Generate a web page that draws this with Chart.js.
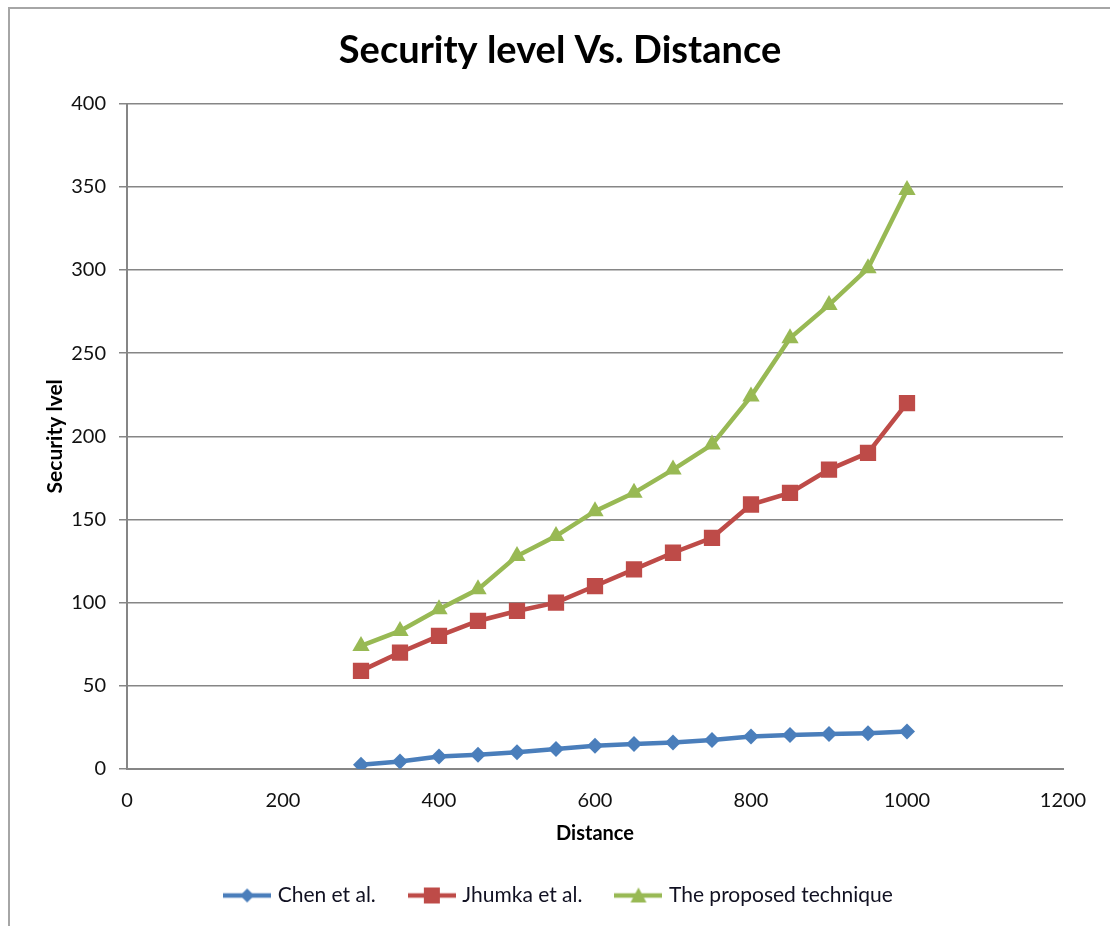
<!DOCTYPE html>
<html>
<head>
<meta charset="utf-8">
<script src="https://cdn.jsdelivr.net/npm/chart.js@4/dist/chart.umd.min.js"></script>
<style>
  html, body { margin: 0; padding: 0; background: #fff; }
  #wrap { position: relative; width: 1110px; height: 926px; }
  #frame {
    position: absolute; left: 8px; top: 7px; right: -4px; bottom: -4px;
    border-left: 2px solid #a6a6a6; border-top: 2px solid #a6a6a6;
    pointer-events: none;
  }
</style>
</head>
<body>
<div id="wrap">
  <canvas id="chart" width="1110" height="926"></canvas>
  <div id="frame"></div>
</div>
<script>
const distance = [300, 350, 400, 450, 500, 550, 600, 650, 700, 750, 800, 850, 900, 950, 1000]
const chen = [2.5, 4.5, 7.5, 8.5, 10, 12, 14, 15, 16, 17.5, 19.5, 20.5, 21, 21.5, 22.5]
const jhumka = [59, 70, 80, 89, 95, 100, 110, 120, 130, 139, 159, 166, 180, 190, 220]
const proposed = [74, 83, 96, 108, 128, 140, 155, 166, 180, 195, 224, 259, 279, 301, 348]
const seriesNames = ["Chen et al.", "Jhumka et al.", "The proposed technique"]

const colors = ["#4a7ebb", "#be4b48", "#98b954"]
const styles = ["rectRot", "rect", "triangle"]
const radii = [8, 11.5, 10]
const font = "Lato, 'Open Sans', sans-serif"

// small canvas used as the legend symbol: a line with the marker in the middle
function legendSymbol(color, style) {
  const c = document.createElement("canvas")
  c.width = 48
  c.height = 18
  const g = c.getContext("2d")
  g.strokeStyle = color
  g.fillStyle = color
  g.lineWidth = 4.5
  g.beginPath()
  g.moveTo(0, 9)
  g.lineTo(48, 9)
  g.stroke()
  g.beginPath()
  if (style === "rectRot") {
    g.moveTo(24, 2); g.lineTo(31, 9); g.lineTo(24, 16); g.lineTo(17, 9)
  } else if (style === "rect") {
    g.rect(16, 1, 16, 16)
  } else {
    g.moveTo(24, 1); g.lineTo(32, 16); g.lineTo(16, 16)
  }
  g.closePath()
  g.fill()
  return c
}

const values = [chen, jhumka, proposed]
const datasets = values.map((vals, i) => ({
  label: seriesNames[i],
  data: distance.map((d, j) => ({ x: d, y: vals[j] })),
  borderColor: colors[i],
  backgroundColor: colors[i],
  borderWidth: 4.5,
  pointStyle: styles[i],
  pointRadius: radii[i],
  pointHoverRadius: radii[i],
  pointBorderWidth: 0,
  tension: 0
}))

new Chart(document.getElementById("chart"), {
  type: "line",
  data: { datasets },
  options: {
    responsive: false,
    animation: false,
    layout: { padding: { left: 57, right: 47, top: 0, bottom: 10 } },
    plugins: {
      title: {
        display: true,
        text: "Security level Vs. Distance",
        color: "#000",
        font: { family: font, size: 38, weight: "bold" },
        padding: { top: 28, bottom: 30 }
      },
      legend: {
        position: "bottom",
        labels: {
          color: "#111122",
          font: { family: font, size: 21 },
          usePointStyle: true,
          pointStyleWidth: 40,
          padding: 36,
          generateLabels(chart) {
            const items = Chart.defaults.plugins.legend.labels.generateLabels(chart)
            items.forEach((it, i) => { it.pointStyle = legendSymbol(colors[i], styles[i]) })
            return items
          }
        }
      },
      tooltip: { enabled: false }
    },
    scales: {
      x: {
        type: "linear",
        min: 0,
        max: 1200,
        ticks: {
          stepSize: 200, color: "#111", padding: 20,
          font: { family: font, size: 20 },
          callback: v => String(v)
        },
        grid: { display: false, drawTicks: false },
        border: { color: "#868686", width: 2 },
        title: {
          display: true,
          text: "Distance",
          color: "#000",
          font: { family: font, size: 20, weight: "bold" },
          padding: { top: 0, bottom: 3 }
        },
        afterFit(scale) { scale.height = 80 }
      },
      y: {
        min: 0,
        max: 400,
        ticks: {
          stepSize: 50, color: "#111", padding: 13,
          font: { family: font, size: 20 },
          callback: v => String(v)
        },
        grid: { color: "#868686", lineWidth: 1.5, tickLength: 8, drawTicks: true },
        border: { color: "#868686", width: 2 },
        title: {
          display: true,
          text: "Security lvel",
          color: "#000",
          font: { family: font, size: 21, weight: "bold" },
          padding: { top: -14, bottom: 0 }
        },
        afterFit(scale) { scale.width = 70 }
      }
    }
  }
})
</script>
</body>
</html>
